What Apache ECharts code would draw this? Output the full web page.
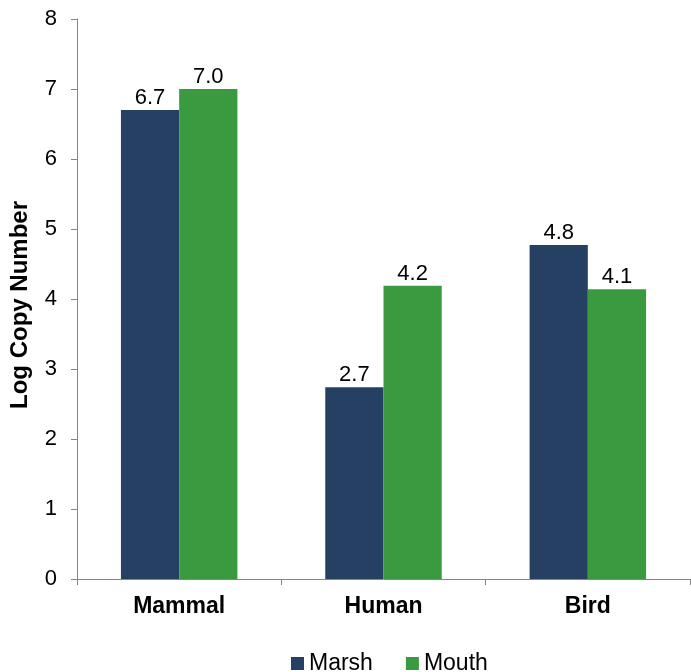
<!DOCTYPE html>
<html>
<head>
<meta charset="utf-8">
<script src="https://cdn.jsdelivr.net/npm/echarts@6/dist/echarts.min.js"></script>
<style>
html,body{margin:0;padding:0;background:#fff;}
#chart{width:691px;height:672px;}
</style>
</head>
<body>
<div id="chart"></div>
<script>
const categories = ['Mammal', 'Human', 'Bird'];
const marsh = [6.7, 2.74, 4.77];
const mouth = [7.0, 4.19, 4.14];
const seriesNames = ['Marsh', 'Mouth'];
const yTicks = { min: 0, max: 8, interval: 1 };

const FONT = '"Liberation Sans", Arial, sans-serif';
const chart = echarts.init(document.getElementById('chart'), null, { renderer: 'canvas' });
const labelCfg = {
  show: true, position: 'top', distance: 1,
  color: '#000', fontFamily: FONT, fontSize: 22,
  formatter: p => p.value.toFixed(1)
};
chart.setOption({
  animation: false,
  grid: { left: 77, right: 1, top: 19, bottom: 93, containLabel: false },
  legend: {
    top: 647, left: 286,
    itemWidth: 13, itemHeight: 13, itemGap: 33,
    icon: 'rect',
    textStyle: { fontFamily: FONT, fontSize: 23, color: '#000' },
    data: seriesNames
  },
  xAxis: {
    type: 'category', data: categories,
    axisLine: { lineStyle: { color: '#868686', width: 1 } },
    axisTick: { show: true, length: 6, lineStyle: { color: '#868686' } },
    axisLabel: { margin: 16, fontFamily: FONT, fontSize: 23, fontWeight: 'bold', color: '#000' }
  },
  yAxis: {
    type: 'value', min: yTicks.min, max: yTicks.max, interval: yTicks.interval,
    name: 'Log Copy Number', nameLocation: 'middle', nameGap: 45,
    nameTextStyle: { fontFamily: FONT, fontSize: 24, fontWeight: 'bold', color: '#000', padding: [0, 12, 0, 0] },
    axisLine: { show: true, lineStyle: { color: '#868686', width: 1 } },
    axisTick: { show: true, length: 6, lineStyle: { color: '#868686' } },
    splitLine: { show: false },
    axisLabel: { margin: 20, fontFamily: FONT, fontSize: 22, color: '#000' }
  },
  series: [
    { name: seriesNames[0], type: 'bar', data: marsh, barGap: '0%', barCategoryGap: '43%',
      itemStyle: { color: '#264063' }, label: labelCfg },
    { name: seriesNames[1], type: 'bar', data: mouth, barGap: '0%', barCategoryGap: '43%',
      itemStyle: { color: '#3A9A3F' }, label: labelCfg }
  ]
});
</script>
</body>
</html>
